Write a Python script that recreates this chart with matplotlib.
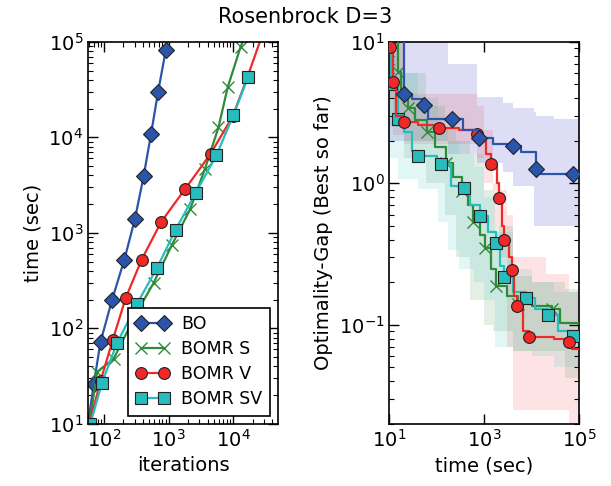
import numpy as np
import matplotlib
matplotlib.use("Agg")
import matplotlib.pyplot as plt

# ---- left panel: time vs iterations (marker points)
bo_iter = [57, 70, 89, 134, 208, 303, 412, 535, 690, 910]
bo_time = [10, 26, 72, 198, 525, 1400, 3900, 10700, 30000, 83000]

s_iter = [60, 79, 142, 330, 590, 1120, 2150, 3640, 5900, 8200, 13000, 14000]
s_time = [10, 35, 48, 150, 300, 740, 1760, 4650, 12700, 33500, 89000, 100000]

v_iter = [60, 89, 137, 218, 385, 770, 1820, 4450, 9800, 16600, 25700]
v_time = [10, 28, 75, 208, 525, 1300, 2900, 6700, 16600, 43000, 100000]

sv_iter = [62, 94, 160, 325, 665, 1290, 2640, 5500, 10000, 17000]
sv_time = [10, 27, 70, 180, 430, 1080, 2640, 6500, 17000, 43000]

# ---- right panel: optimality gap vs time (step curves + spread bands)
bo_t = [14, 20, 30, 55, 65, 213, 350, 780, 1500, 4100, 6000, 12300, 16000, 74000, 1e5]
bo_gap = [12, 4.3, 3.95, 3.6, 2.85, 2.85, 2.4, 2.09, 1.89, 1.83, 1.66, 1.27, 1.17, 1.17, 1.17]
bo_mark = [1, 3, 5, 7, 9, 11, 13]
bo_band_t = [10, 170, 700, 2500, 4000, 11000, 12600, 30000, 1e5]
bo_band_hi = [10, 7.0, 4.1, 3.7, 3.4, 3.2, 3.0, 2.85, 2.85]
bo_band_lo = [2.0, 1.6, 1.4, 1.2, 0.96, 0.5, 0.5, 0.5, 0.5]

v_t = [10, 10.3, 12, 14, 20, 40, 113, 300, 690, 800, 1100, 1420, 1900, 2090, 2400,
       2640, 3300, 3780, 4200, 4800, 6500, 8900, 30000, 62000, 70000, 1e5]
v_gap = [12, 9.2, 5.2, 3.0, 2.7, 2.6, 2.47, 2.4, 2.24, 2.0, 1.6, 1.37, 1.0, 0.79, 0.5,
         0.40, 0.3, 0.245, 0.16, 0.135, 0.09, 0.082, 0.079, 0.076, 0.068, 0.068]
v_mark = [1, 2, 4, 6, 8, 11, 13, 15, 17, 19, 21, 23]
v_band_t = [10, 12, 20, 700, 1000, 1500, 2000, 3000, 4000, 20000, 60000, 1e5]
v_band_hi = [10, 10, 4.3, 3.5, 2.4, 1.0, 0.9, 0.6, 0.3, 0.23, 0.17, 0.17]
v_band_lo = [4.0, 2.2, 1.9, 1.5, 1.0, 0.5, 0.3, 0.07, 0.025, 0.025, 0.02, 0.02]

s_t = [10.5, 15, 18, 25, 35, 61, 90, 160, 220, 335, 450, 590, 800, 1060, 1400,
       1790, 3000, 5200, 10000, 26500, 40000, 1e5]
s_gap = [12, 6.1, 4.0, 3.4, 2.8, 2.3, 1.8, 1.4, 1.1, 0.885, 0.7, 0.53, 0.43, 0.35, 0.25,
         0.187, 0.16, 0.141, 0.135, 0.129, 0.103, 0.103]
s_mark = [1, 3, 5, 7, 9, 11, 13, 15, 17, 19]
s_band_t = [10, 20, 60, 150, 250, 500, 1000, 1500, 4000, 10000, 50000, 1e5]
s_band_hi = [10, 6.0, 3.5, 2.5, 2.0, 1.6, 0.9, 0.5, 0.22, 0.2, 0.18, 0.18]
s_band_lo = [2.5, 1.5, 1.0, 0.6, 0.3, 0.15, 0.1, 0.09, 0.065, 0.065, 0.042, 0.04]

sv_t = [10, 11, 15, 20, 30, 41, 100, 126, 200, 380, 500, 810, 1200, 1780, 2200,
        2650, 4000, 7600, 12000, 22300, 35000, 74000, 1e5]
sv_gap = [12, 5.0, 2.85, 2.3, 1.7, 1.55, 1.45, 1.37, 0.95, 0.93, 0.7, 0.59, 0.45, 0.38,
          0.26, 0.218, 0.17, 0.155, 0.13, 0.118, 0.09, 0.083, 0.083]
sv_mark = [1, 2, 5, 7, 9, 11, 13, 15, 17, 19, 21]
sv_band_t = [10, 15, 41, 107, 173, 300, 600, 1000, 1700, 4000, 10000, 30000, 1e5]
sv_band_hi = [10, 6.0, 4.0, 2.5, 2.0, 1.6, 1.3, 0.8, 0.45, 0.25, 0.2, 0.17, 0.15]
sv_band_lo = [1.5, 1.07, 0.91, 0.53, 0.34, 0.25, 0.2, 0.15, 0.07, 0.065, 0.06, 0.05, 0.045]

c_bo = '#2a55ab'
c_s = '#2e8b3a'
c_v = '#f02828'
c_sv = '#28bcbc'

plt.rcParams['font.family'] = 'DejaVu Sans'

fig = plt.figure(figsize=(6.11, 4.86), dpi=100)
ax1 = fig.add_axes([0.144, 0.128, 0.311, 0.786])
ax2 = fig.add_axes([0.637, 0.128, 0.311, 0.786])

mk = dict(markeredgecolor='#222222', markeredgewidth=0.8)

ax1.plot(bo_iter, bo_time, '-D', color=c_bo, markerfacecolor=c_bo, ms=8.5, lw=1.6, label='BO', **mk)
ax1.plot(s_iter[:-1], s_time[:-1], '-x', color=c_s, ms=8, lw=1.6, mew=1.0, label='BOMR S')
ax1.plot(s_iter[-2:], s_time[-2:], '-', color=c_s, lw=1.6)
ax1.plot(v_iter, v_time, '-o', color=c_v, markerfacecolor=c_v, ms=8.5, lw=1.6, markevery=list(range(len(v_iter) - 1)), label='BOMR V', **mk)
ax1.plot(sv_iter, sv_time, '-s', color=c_sv, markerfacecolor=c_sv, ms=8, lw=1.6, label='BOMR SV', **mk)

ax1.set_xscale('log')
ax1.set_yscale('log')
ax1.set_xlim(57, 49000)
ax1.set_ylim(10, 1e5)
ax1.set_xlabel('iterations', fontsize=14)
ax1.set_ylabel('time (sec)', fontsize=14)
leg = ax1.legend(loc='lower right', fontsize=12.5, numpoints=2, fancybox=False,
                 framealpha=1, edgecolor='black', borderaxespad=0.45,
                 handlelength=1.9, handletextpad=0.7, labelspacing=0.4,
                 borderpad=0.45)
leg.get_frame().set_linewidth(1.2)

# right panel bands
for bt, lo, hi, c, a in [(bo_band_t, bo_band_lo, bo_band_hi, '#3a3ac8', 0.17),
                         (v_band_t, v_band_lo, v_band_hi, c_v, 0.13),
                         (s_band_t, s_band_lo, s_band_hi, c_s, 0.13),
                         (sv_band_t, sv_band_lo, sv_band_hi, c_sv, 0.13)]:
    ax2.fill_between(bt, lo, hi, step='post', color=c, alpha=a, lw=0)

ax2.plot(s_t, s_gap, '-x', drawstyle='steps-post', color=c_s, ms=8, mew=1.0, lw=1.6, markevery=s_mark, zorder=3)
ax2.plot(sv_t, sv_gap, '-s', drawstyle='steps-post', color=c_sv, markerfacecolor=c_sv, ms=8, lw=1.6, markevery=sv_mark, zorder=3, **mk)
ax2.plot(v_t, v_gap, '-o', drawstyle='steps-post', color=c_v, markerfacecolor=c_v, ms=8.5, lw=1.6, markevery=v_mark, zorder=4, **mk)
ax2.plot(bo_t, bo_gap, '-D', drawstyle='steps-post', color=c_bo, markerfacecolor=c_bo, ms=8.5, lw=1.6, markevery=bo_mark, zorder=5, **mk)

ax2.set_xscale('log')
ax2.set_yscale('log')
ax2.set_xlim(10, 1e5)
ax2.set_ylim(0.02, 10)
ax2.set_xlabel('time (sec)', fontsize=14)
ax2.set_ylabel('Optimality-Gap (Best so far)', fontsize=14)

for ax in (ax1, ax2):
    ax.tick_params(which='both', direction='in', top=True, right=True, labelsize=14)
    ax.tick_params(which='major', length=7, width=1)
    ax.tick_params(which='minor', length=3.5, width=0.8)
    for sp in ax.spines.values():
        sp.set_linewidth(1.2)

fig.suptitle('Rosenbrock D=3', fontsize=15, y=0.985)

fig.savefig('out.png', dpi=100)
